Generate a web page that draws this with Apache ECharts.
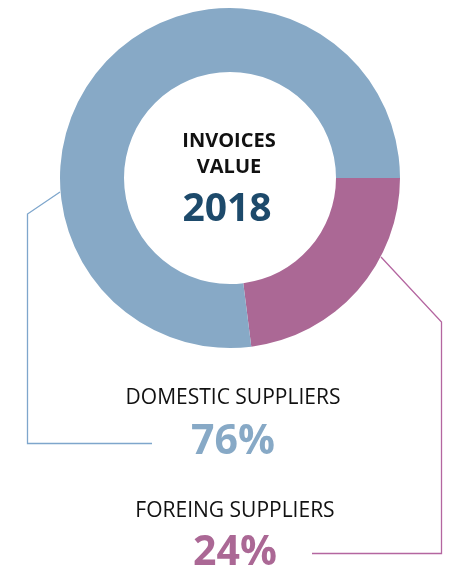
<!DOCTYPE html>
<html>
<head>
<meta charset="utf-8">
<style>
  html, body { margin: 0; padding: 0; background: #fff; }
  #main { width: 450px; height: 573px; }
</style>
<script src="https://cdn.jsdelivr.net/npm/echarts@6/dist/echarts.min.js"></script>
</head>
<body>
<div id="main"></div>
<script>
// data
var categories = ["FOREING SUPPLIERS", "DOMESTIC SUPPLIERS"];
var values = [23, 77]; // slice sizes as drawn
var percentLabels = ["24%", "76%"]; // printed labels
var colors = ["#ab6895", "#87a9c6"];
var titleLines = ["INVOICES", "VALUE"];
var yearLabel = "2018";

var chart = echarts.init(document.getElementById("main"));
var font = "'Open Sans', 'Noto Sans', sans-serif";

var option = {
  animation: false,
  series: [
    {
      type: "pie",
      center: [230, 178],
      radius: [106, 170],
      startAngle: 0,
      clockwise: true,
      silent: true,
      label: { show: false },
      labelLine: { show: false },
      data: categories.map(function (c, i) {
        return { name: c, value: values[i], itemStyle: { color: colors[i] } };
      })
    }
  ],
  graphic: [
    // 中间标题
    {
      type: "text",
      style: {
        x: 229, y: 154, text: titleLines.join("\n"), textAlign: "center", textVerticalAlign: "middle",
        font: "bold 20px " + font, fill: "#111", lineHeight: 26
      }
    },
    {
      type: "text",
      style: {
        x: 227, y: 210, text: yearLabel, textAlign: "center", textVerticalAlign: "middle",
        font: "bold 39px " + font, fill: "#1d4a6b"
      }
    },
    // 下方标签
    {
      type: "text",
      style: {
        x: 233, y: 398, text: categories[1], textAlign: "center", textVerticalAlign: "middle",
        font: "21px " + font, fill: "#111"
      }
    },
    {
      type: "text",
      style: {
        x: 233, y: 442, text: percentLabels[1], textAlign: "center", textVerticalAlign: "middle",
        font: "bold 41px " + font, fill: colors[1]
      }
    },
    {
      type: "text",
      style: {
        x: 235, y: 511, text: categories[0], textAlign: "center", textVerticalAlign: "middle",
        font: "21px " + font, fill: "#111"
      }
    },
    {
      type: "text",
      style: {
        x: 235, y: 553, text: percentLabels[0], textAlign: "center", textVerticalAlign: "middle",
        font: "bold 41px " + font, fill: colors[0]
      }
    },
    // 引导线
    {
      type: "polyline",
      shape: { points: [[60, 192], [27.5, 214], [27.5, 443.5], [152, 443.5]] },
      style: { stroke: "#7ea6cc", lineWidth: 1.3, fill: null }
    },
    {
      type: "polyline",
      shape: { points: [[381, 257], [441.5, 322], [441.5, 553.5], [312, 553.5]] },
      style: { stroke: "#b466a0", lineWidth: 1.3, fill: null }
    }
  ]
};

chart.setOption(option);
</script>
</body>
</html>
